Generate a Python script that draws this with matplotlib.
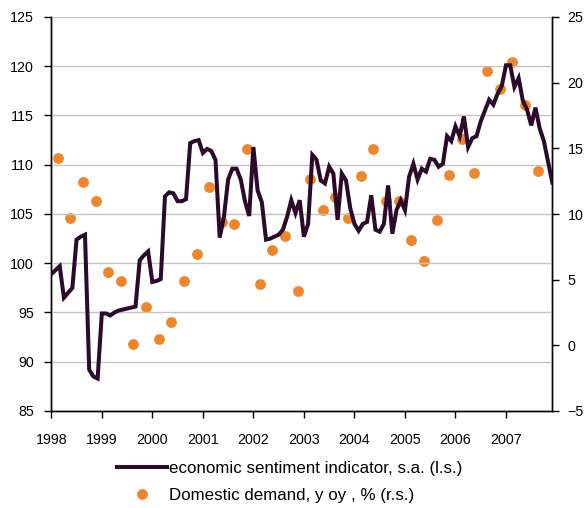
import numpy as np
import matplotlib
matplotlib.use("Agg")
import matplotlib.pyplot as plt
from matplotlib.lines import Line2D

plt.rcParams['font.family'] = ['Liberation Sans', 'DejaVu Sans']

# Monthly economic sentiment indicator, s.a. (Jan 1998 - Dec 2007), left scale
esi = [98.9, 99.3, 99.7, 96.5, 97.0, 97.5, 102.4, 102.7, 102.9, 89.2, 88.5, 88.3,
       94.9, 94.9, 94.7, 95.0, 95.2, 95.3, 95.4, 95.5, 95.6, 100.3, 100.8, 101.2,
       98.1, 98.2, 98.4, 106.8, 107.2, 107.1, 106.3, 106.3, 106.5, 112.2, 112.4, 112.5,
       111.2, 111.6, 111.4, 110.5, 102.6, 104.7, 108.5, 109.6, 109.6, 108.5, 106.3, 104.8,
       111.8, 107.4, 106.2, 102.4, 102.5, 102.7, 102.9, 103.4, 104.7, 106.4, 105.1, 106.4,
       102.7, 104.0, 111.0, 110.5, 108.4, 108.1, 109.8, 109.1, 104.4, 109.1, 108.4, 105.6,
       104.0, 103.3, 104.0, 104.2, 106.9, 103.4, 103.2, 104.0, 107.9, 103.0, 105.4, 106.4,
       105.4, 108.8, 110.1, 108.5, 109.6, 109.3, 110.6, 110.5, 109.8, 110.1, 112.9, 112.4,
       113.9, 112.9, 114.9, 111.8, 112.7, 112.9, 114.4, 115.5, 116.6, 116.1, 117.2, 118.0,
       120.1, 120.1, 117.9, 118.8, 116.5, 115.6, 114.0, 115.8, 113.7, 112.4, 110.3, 108.2]

# Quarterly domestic demand, yoy % (1998Q1 - 2007Q3), right scale
dd = [14.25, 9.67, 12.47, 10.97, 5.59, 4.93, 0.09, 2.91, 0.5, 1.81, 4.93, 6.96,
      12.09, 9.4, 9.25, 14.93, 4.66, 7.25, 8.31, 4.15, 12.65, 10.31, 11.3, 9.7,
      12.9, 14.92, 11.0, 11.0, 8.03, 6.43, 9.55, 13.0, 15.72, 13.13, 20.89, 19.52,
      21.58, 18.3, 13.28]

years = list(range(1998, 2008))
left_ticks = [85, 90, 95, 100, 105, 110, 115, 120, 125]
right_ticks = [-5, 0, 5, 10, 15, 20, 25]

label_esi = "economic sentiment indicator, s.a. (l.s.)"
label_dd = "Domestic demand, y oy , % (r.s.)"

line_color = '#2b0a2b'
dot_color = '#f0862a'

fig = plt.figure(figsize=(5.85, 5.08), dpi=100)
ax = fig.add_axes([51.3 / 585, 1 - 411 / 508, (552.3 - 51.3) / 585, (411 - 17) / 508])
ax2 = ax.twinx()

xm = np.arange(len(esi))
xq = 1.5 + 3 * np.arange(len(dd))

ax.plot(xm, esi, color=line_color, lw=2.9, solid_joinstyle='miter', zorder=3)
ax2.plot(xq, dd, 'o', color=dot_color, ms=7.8, mec='none', zorder=2)

ax.set_zorder(ax2.get_zorder() + 1)
ax.patch.set_visible(False)

ax.set_xlim(0, len(esi) - 1)
ax.set_ylim(85, 125)
ax2.set_ylim(-5, 25)
ax.set_yticks(left_ticks)
ax2.set_yticks(right_ticks)
ax.set_xticks([12 * i for i in range(len(years))])
ax.set_xticklabels([str(y) for y in years])

ax.yaxis.grid(True, color='#c4c4c4', lw=1.0)
ax.set_axisbelow(True)

for a in (ax, ax2):
    a.spines['top'].set_visible(False)
    for s in ('left', 'right', 'bottom'):
        a.spines[s].set_color('black')
        a.spines[s].set_linewidth(1.0)
ax.tick_params(axis='y', direction='out', length=5, width=1, pad=7.5, labelsize=10.3)
ax2.tick_params(axis='y', direction='out', length=5, width=1, pad=6, labelsize=10.3)
ax.tick_params(axis='x', direction='out', length=5, width=1, pad=11, labelsize=10.3)

handles = [Line2D([0], [0], color=line_color, lw=2.9),
           Line2D([0], [0], marker='o', ls='none', color=dot_color, ms=7.8, mec='none')]
fig.legend(handles, [label_esi, label_dd], loc='upper left',
           bbox_to_anchor=(117 / 585, 1 - 461 / 508), frameon=False,
           fontsize=12.2, handlelength=2.95, handletextpad=0.1,
           labelspacing=0.72, borderpad=0, borderaxespad=0, numpoints=1)

fig.savefig('out.png', dpi=100)
